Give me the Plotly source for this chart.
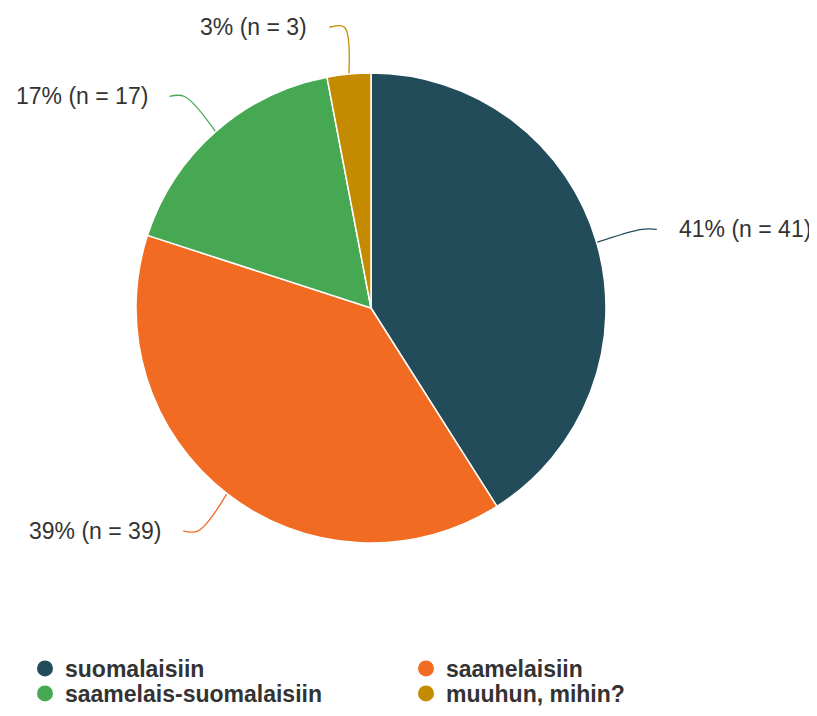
import math
import plotly.graph_objects as go

# ---- data ----
categories = ["suomalaisiin", "saamelaisiin", "saamelais-suomalaisiin", "muuhun, mihin?"]
counts = [41, 39, 17, 3]
percents = [41, 39, 17, 3]
colors = ["#234c5b", "#f26b22", "#46a853", "#c48b00"]

# ---- layout geometry (pixels; page has an 8px body margin) ----
W, H = 809, 708
cx, cy, R = 363, 300, 235

fig = go.Figure()

fig.add_trace(go.Pie(
    labels=categories,
    values=counts,
    sort=False,
    direction="clockwise",
    rotation=0,
    marker=dict(colors=colors, line=dict(color="white", width=1.5)),
    textinfo="none",
    hoverinfo="label+value+percent",
    showlegend=False,
    domain=dict(x=[(cx - R) / W, (cx + R) / W], y=[1 - (cy + R) / H, 1 - (cy - R) / H]),
))

# leader lines + labels computed from slice angles
total = sum(counts)
cum = 0
annotations = []
for cat, n, p, col in zip(categories, counts, percents, colors):
    mid = (cum + n / 2) / total
    cum += n
    ang = 2 * math.pi * mid
    sx, sy = math.sin(ang), -math.cos(ang)
    x0, y0 = cx + R * sx, cy + R * sy
    x1, y1 = cx + 1.2 * R * sx, cy + 1.2 * R * sy
    side = 1 if sx >= 0 else -1
    x2, y2 = x1 + 15 * side, y1
    fig.add_trace(go.Scatter(
        x=[x0, x1, x2], y=[y0, y1, y2], mode="lines",
        line=dict(color=col, width=1.3, shape="spline"),
        hoverinfo="skip", showlegend=False,
    ))
    annotations.append(dict(
        x=x2 + 20 * side, y=y2, xref="x", yref="y",
        text=f"{p}% (n = {n})", showarrow=False,
        xanchor="left" if side > 0 else "right", yanchor="middle",
        font=dict(family="Liberation Sans, Arial, sans-serif", size=23, color="#333333"),
    ))

# legend entries with circle markers (two rows -> two legends)
for i, (cat, col) in enumerate(zip(categories, colors)):
    fig.add_trace(go.Scatter(
        x=[None], y=[None], mode="markers", name=cat,
        marker=dict(symbol="circle", size=22, color=col),
        showlegend=True,
        legend="legend" if i < 2 else "legend2",
    ))

leg_common = dict(
    orientation="h", x=17 / W, xanchor="left", yanchor="top",
    entrywidth=336, entrywidthmode="pixels",
    font=dict(family="Liberation Sans, Arial, sans-serif", size=23, color="#333333", weight="bold"),
    tracegroupgap=0, itemsizing="trace", bgcolor="rgba(0,0,0,0)",
)

fig.update_layout(
    width=W, height=H,
    margin=dict(l=0, r=0, t=0, b=0, autoexpand=False),
    paper_bgcolor="white", plot_bgcolor="white",
    xaxis=dict(range=[0, W], visible=False, domain=[0, 1]),
    yaxis=dict(range=[H, 0], visible=False, domain=[0, 1]),
    annotations=annotations,
    legend=dict(y=1 - 639 / H, **leg_common),
    legend2=dict(y=1 - 664 / H, **leg_common),
    showlegend=True,
)

fig.write_html("out.html")
